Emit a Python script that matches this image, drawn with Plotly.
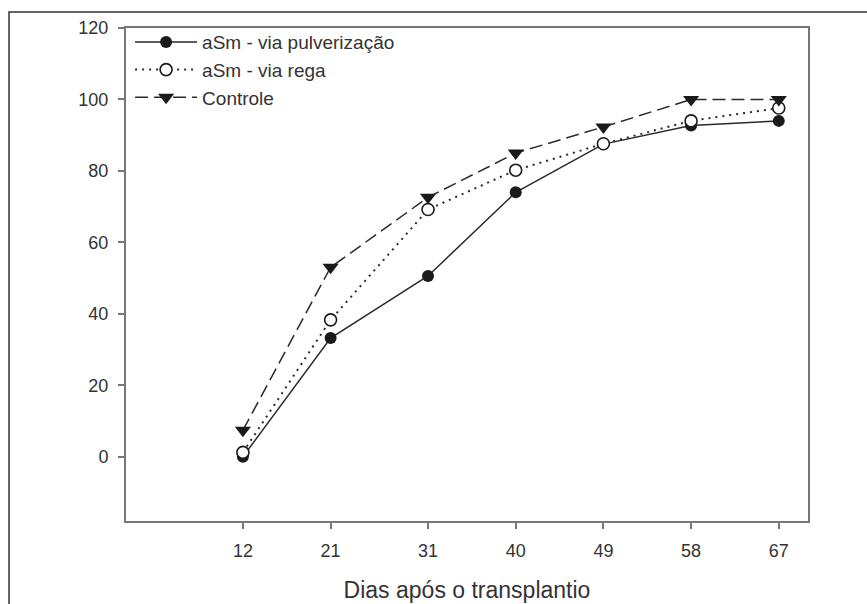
import plotly.graph_objects as go

dias = [12, 21, 31, 40, 49, 58, 67]
pulverizacao = [0, 33.2, 50.6, 74, 87.5, 92.7, 94]
rega = [1.2, 38.3, 69.2, 80.2, 87.6, 94, 97.6]
controle = [7.4, 53, 72.6, 85, 92.3, 100, 100]

names = ["aSm - via pulverização", "aSm - via rega", "Controle"]

fig = go.Figure()
fig.add_trace(go.Scatter(x=dias, y=pulverizacao, name=names[0], mode="lines+markers",
                         line=dict(color="#2a2a2a", width=1.5, dash="solid"),
                         marker=dict(symbol="circle", size=12, color="#1a1a1a")))
fig.add_trace(go.Scatter(x=dias, y=rega, name=names[1], mode="lines+markers",
                         line=dict(color="#2a2a2a", width=2, dash="2px,5px"),
                         marker=dict(symbol="circle", size=12, color="white",
                                     line=dict(width=1.6, color="#1a1a1a"))))
fig.add_trace(go.Scatter(x=dias, y=controle, name=names[2], mode="lines+markers",
                         line=dict(color="#2a2a2a", width=1.5, dash="13px,6px"),
                         marker=dict(symbol="triangle-down", size=14, color="#1a1a1a")))

axis_common = dict(showline=True, linecolor="#777", linewidth=2, mirror=True,
                   ticks="outside", ticklen=6, tickwidth=1.5, tickcolor="#777",
                   showgrid=False, zeroline=False, ticklabelstandoff=6, automargin=False,
                   tickfont=dict(family="Liberation Sans, Arial", size=18, color="#333"))

fig.update_layout(
    width=867, height=604,
    margin=dict(l=126, r=59, t=28, b=83),
    paper_bgcolor="white", plot_bgcolor="white",
    xaxis=dict(range=[0, 70], tickvals=dias, ticktext=[str(d) for d in dias],
               title=dict(text="Dias após o transplantio", standoff=22,
                          font=dict(family="Liberation Sans, Arial", size=23, color="#333")),
               **axis_common),
    yaxis=dict(range=[-18, 120], tickvals=[0, 20, 40, 60, 80, 100, 120], **axis_common),
    legend=dict(x=0.006, y=1.01, xanchor="left", yanchor="top", itemwidth=62,
                bgcolor="rgba(0,0,0,0)", tracegroupgap=0,
                font=dict(family="Liberation Sans, Arial", size=19, color="#333")),
    showlegend=True,
    shapes=[dict(type="rect", xref="paper", yref="paper",
                 x0=(9 - 126) / 682, x1=(880 - 126) / 682,
                 y0=(521 - 620) / 493, y1=(521 - 12) / 493,
                 line=dict(color="#333", width=1.5), fillcolor="rgba(0,0,0,0)",
                 layer="below")],
)

fig.write_html("out.html", config={"displayModeBar": False},
               post_script="document.body.style.margin='0';document.body.style.overflow='hidden';")
